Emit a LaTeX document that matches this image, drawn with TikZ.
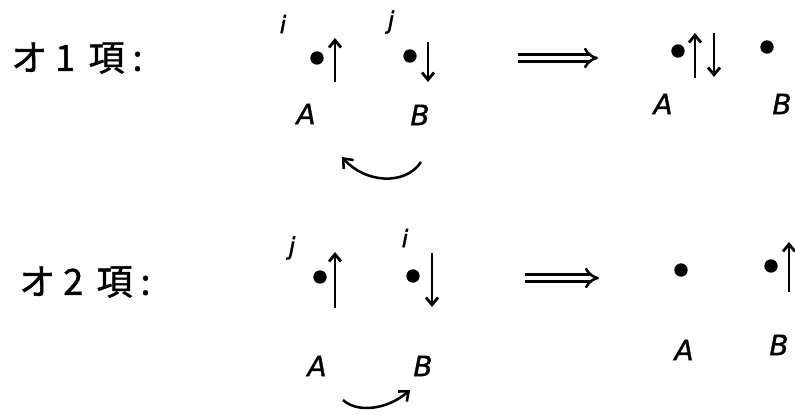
\documentclass[tikz,border=0pt]{standalone}
\usepackage{fontspec}
\usepackage{tikz}
\usetikzlibrary{arrows.meta}
\newfontfamily\jpfont[FakeBold=1.3]{Noto Sans CJK JP}
\newfontfamily\handfont[FakeBold=1.2]{DejaVu Sans}

\begin{document}
\begin{tikzpicture}[
    x=0.75pt, y=-0.75pt,
    termlabel/.style={
      font=\jpfont\fontsize{27}{32}\selectfont,
      anchor=west, inner sep=0pt
    },
    site/.style={circle, fill=black, inner sep=0pt, minimum size=10pt},
    sitename/.style={font=\handfont\itshape\fontsize{21}{25}\selectfont, inner sep=0pt},
    orbital/.style={font=\handfont\itshape\fontsize{18}{21}\selectfont, inner sep=0pt},
    spin/.style={line width=2.1pt, -{Straight Barb[length=5.5pt, width=9pt]}},
    hop/.style={line width=1.9pt, -{Straight Barb[length=6pt, width=10pt]}},
    yields/.style={double, double distance=3.2pt, line width=1.9pt, -{Implies}}
  ]

  \useasboundingbox (0,0) rectangle (795,414);

  % ---- first term ----
  \node[termlabel] (term1) at (11,58)
    {オ\hspace{6pt}1\hspace{10pt}項\hspace{6pt}:};

  \node[orbital] (i1) at (283,24) {i};
  \node[orbital] (j1) at (391,22) {j};
  \node[site] (a1) at (317,58) {};
  \node[site] (b1) at (410,56) {};
  \node[sitename] (na1) at (306,114) {A};
  \node[sitename] (nb1) at (420,115) {B};

  \coordinate (a1lo) at (335,82);
  \coordinate (a1hi) at (335,38);
  \coordinate (b1hi) at (428,42);
  \coordinate (b1lo) at (428,82);
  \draw[spin] (a1lo) -- (a1hi);
  \draw[spin] (b1hi) -- (b1lo);

  \coordinate (hop1from) at (421,162);
  \coordinate (hop1to) at (342,157);
  \draw[hop] (hop1from) .. controls (405,186) and (365,183) .. (hop1to);

  \coordinate (res1from) at (518,58);
  \coordinate (res1to) at (598,58);
  \draw[yields] (res1from) -- (res1to);

  \node[site] (a1r) at (678,51) {};
  \node[site] (b1r) at (767,47) {};
  \node[sitename] (na1r) at (663,104) {A};
  \node[sitename] (nb1r) at (782,104) {B};

  \coordinate (a1rlo) at (695,78);
  \coordinate (a1rhi) at (695,33);
  \coordinate (a1rhi2) at (714,33);
  \coordinate (a1rlo2) at (714,77);
  \draw[spin] (a1rlo) -- (a1rhi);
  \draw[spin] (a1rhi2) -- (a1rlo2);

  % ---- second term ----
  \node[termlabel] (term2) at (19,282)
    {オ\hspace{6pt}2\hspace{10pt}項\hspace{6pt}:};

  \node[orbital] (j2) at (292,248) {j};
  \node[orbital] (i2) at (405,238) {i};
  \node[site] (a2) at (320,277) {};
  \node[site] (b2) at (413,276) {};
  \node[sitename] (na2) at (317,366) {A};
  \node[sitename] (nb2) at (423,366) {B};

  \coordinate (a2lo) at (335,308);
  \coordinate (a2hi) at (335,252);
  \coordinate (b2hi) at (432,253);
  \coordinate (b2lo) at (432,307);
  \draw[spin] (a2lo) -- (a2hi);
  \draw[spin] (b2hi) -- (b2lo);

  \coordinate (hop2from) at (343,400);
  \coordinate (hop2to) at (410,390);
  \draw[hop] (hop2from) .. controls (357,413) and (387,410) .. (hop2to);

  \coordinate (res2from) at (525,278);
  \coordinate (res2to) at (599,278);
  \draw[yields] (res2from) -- (res2to);

  \node[site] (a2r) at (681,270) {};
  \node[site] (b2r) at (771,266) {};
  \node[sitename] (na2r) at (684,350) {A};
  \node[sitename] (nb2r) at (779,345) {B};

  \coordinate (b2rlo) at (789,292);
  \coordinate (b2rhi) at (789,242);
  \draw[spin] (b2rlo) -- (b2rhi);

\end{tikzpicture}
\end{document}
